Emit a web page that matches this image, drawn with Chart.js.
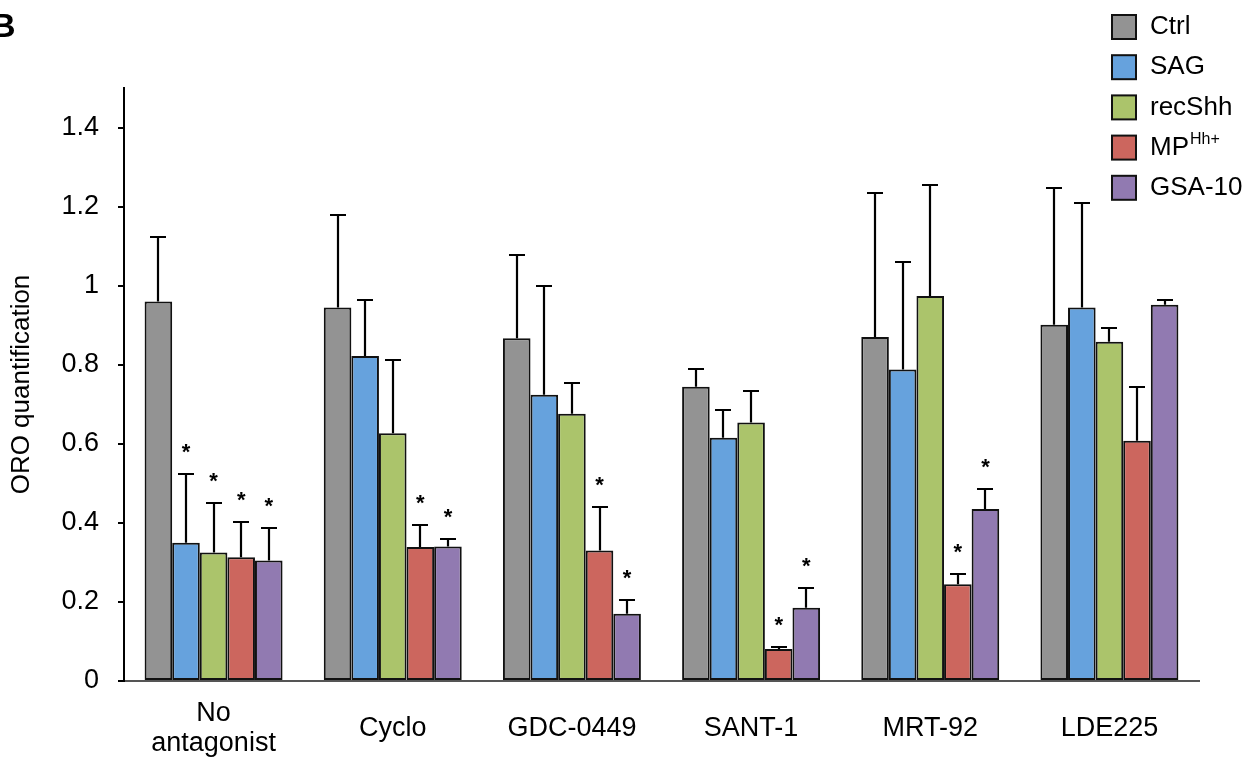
<!DOCTYPE html>
<html>
<head>
<meta charset="utf-8">
<script src="https://cdn.jsdelivr.net/npm/chart.js@4.4.1/dist/chart.umd.min.js"></script>
<style>
html,body{margin:0;padding:0;background:#ffffff;}
#c{display:block;}
</style>
</head>
<body>
<canvas id="c" width="1247" height="758" style="width:1247px;height:758px"></canvas>
<script>
// ---------- data ----------
const categories = [["No", "antagonist"], "Cyclo", "GDC-0449", "SANT-1", "MRT-92", "LDE225"];
const seriesNames = ["Ctrl", "SAG", "recShh", "MP", "GSA-10"];
const seriesSup   = ["", "", "", "Hh+", ""];
const yTickValues = [0, 0.2, 0.4, 0.6, 0.8, 1, 1.2, 1.4];
const yTickLabels = ["0", "0.2", "0.4", "0.6", "0.8", "1", "1.2", "1.4"];

const ctrlValues   = [0.960, 0.945, 0.867, 0.744, 0.870, 0.901];
const sagValues    = [0.350, 0.822, 0.724, 0.615, 0.788, 0.945];
const recShhValues = [0.325, 0.627, 0.676, 0.654, 0.974, 0.858];
const mpValues     = [0.313, 0.339, 0.330, 0.081, 0.245, 0.608];
const gsaValues    = [0.305, 0.340, 0.170, 0.185, 0.435, 0.952];

const ctrlErr   = [0.163, 0.235, 0.211, 0.046, 0.365, 0.346];
const sagErr    = [0.173, 0.142, 0.274, 0.071, 0.271, 0.265];
const recShhErr = [0.126, 0.185, 0.079, 0.079, 0.280, 0.036];
const mpErr     = [0.089, 0.056, 0.109, 0.004, 0.026, 0.135];
const gsaErr    = [0.083, 0.018, 0.036, 0.049, 0.050, 0.013];

const ctrlSig   = [0, 0, 0, 0, 0, 0];
const sagSig    = [1, 0, 0, 0, 0, 0];
const recShhSig = [1, 0, 0, 0, 0, 0];
const mpSig     = [1, 1, 1, 1, 1, 0];
const gsaSig    = [1, 1, 1, 1, 1, 0];

const seriesColors = ["#939393", "#66a2dd", "#abc46b", "#cc665e", "#917ab1"];

// ---------- build ----------
const FONT = '"Liberation Sans", Arial, Helvetica, sans-serif';
const allValues = [ctrlValues, sagValues, recShhValues, mpValues, gsaValues];
const allErr = [ctrlErr, sagErr, recShhErr, mpErr, gsaErr];
const allSig = [ctrlSig, sagSig, recShhSig, mpSig, gsaSig];

const datasets = seriesNames.map((name, i) => ({
  label: name + seriesSup[i],
  data: allValues[i],
  backgroundColor: seriesColors[i],
  borderColor: "#111111",
  borderWidth: 2,
  borderSkipped: false,
  categoryPercentage: 0.77,
  barPercentage: 1.0,
  errors: allErr[i],
  sig: allSig[i]
}));

const errorBarPlugin = {
  id: "errorBars",
  afterDatasetsDraw(chart) {
    const ctx = chart.ctx;
    const yScale = chart.scales.y;
    ctx.save();
    ctx.strokeStyle = "#000";
    ctx.lineWidth = 2.2;
    ctx.fillStyle = "#000";
    chart.data.datasets.forEach((ds, i) => {
      const meta = chart.getDatasetMeta(i);
      meta.data.forEach((bar, j) => {
        const v = ds.data[j];
        const e = ds.errors[j];
        const yTop = yScale.getPixelForValue(v + e);
        const x = Math.round(bar.x);
        ctx.beginPath();
        ctx.moveTo(x, bar.y);
        ctx.lineTo(x, Math.round(yTop));
        ctx.moveTo(x - 8, Math.round(yTop));
        ctx.lineTo(x + 8, Math.round(yTop));
        ctx.stroke();
        if (ds.sig[j]) {
          ctx.font = "bold 22px " + FONT;
          ctx.textAlign = "center";
          ctx.textBaseline = "alphabetic";
          ctx.fillText("*", bar.x, yTop - 28 + 13);
        }
      });
    });
    ctx.restore();
  }
};

const decorPlugin = {
  id: "decor",
  afterDraw(chart) {
    const ctx = chart.ctx;
    ctx.save();
    // panel letter
    ctx.fillStyle = "#000";
    ctx.font = "bold 34px " + FONT;
    ctx.textAlign = "left";
    ctx.textBaseline = "alphabetic";
    ctx.fillText("B", -9, 37);
    // legend
    chart.data.datasets.forEach((ds, i) => {
      const cy = 27 + i * 40.2;
      ctx.fillStyle = ds.backgroundColor;
      ctx.fillRect(1112, cy - 12, 24, 24);
      ctx.strokeStyle = "#111";
      ctx.lineWidth = 2;
      ctx.strokeRect(1112, cy - 12, 24, 24);
      ctx.fillStyle = "#000";
      ctx.textAlign = "left";
      ctx.textBaseline = "middle";
      ctx.font = "26px " + FONT;
      const main = seriesNames[i];
      ctx.fillText(main, 1150, cy);
      if (seriesSup[i]) {
        const w = ctx.measureText(main).width;
        ctx.font = "16px " + FONT;
        ctx.fillText(seriesSup[i], 1150 + w + 1, cy - 8);
      }
    });
    ctx.restore();
  }
};

new Chart(document.getElementById("c"), {
  type: "bar",
  data: { labels: categories, datasets: datasets },
  plugins: [errorBarPlugin, decorPlugin],
  options: {
    responsive: false,
    devicePixelRatio: 1,
    animation: false,
    layout: { padding: { top: 88, right: 48, left: 0, bottom: 0 } },
    plugins: { legend: { display: false }, tooltip: { enabled: false } },
    scales: {
      x: {
        afterFit(s) { s.height = 77; },
        grid: { display: false, drawTicks: false },
        border: { display: true, color: "#555555", width: 2 },
        ticks: {
          color: "#000",
          font: { family: FONT, size: 27, lineHeight: 1.11 },
          crossAlign: "center",
          padding: 33,
          maxRotation: 0,
          autoSkip: false
        }
      },
      y: {
        min: 0,
        max: 1.5,
        afterFit(s) { s.width = 124; },
        afterBuildTicks(s) { s.ticks = yTickValues.map(v => ({ value: v })); },
        grid: { display: true, drawOnChartArea: false, drawTicks: true, tickLength: 6, color: "#000", lineWidth: 2 },
        border: { display: true, color: "#000", width: 2 },
        ticks: {
          color: "#000",
          font: { family: FONT, size: 27 },
          padding: 19,
          callback(value, index) { return yTickLabels[index]; }
        },
        title: {
          display: true,
          text: "ORO quantification",
          color: "#000",
          font: { family: FONT, size: 26, lineHeight: 1.2 },
          padding: { top: 6, bottom: 0 }
        }
      }
    }
  }
});
</script>
</body>
</html>
